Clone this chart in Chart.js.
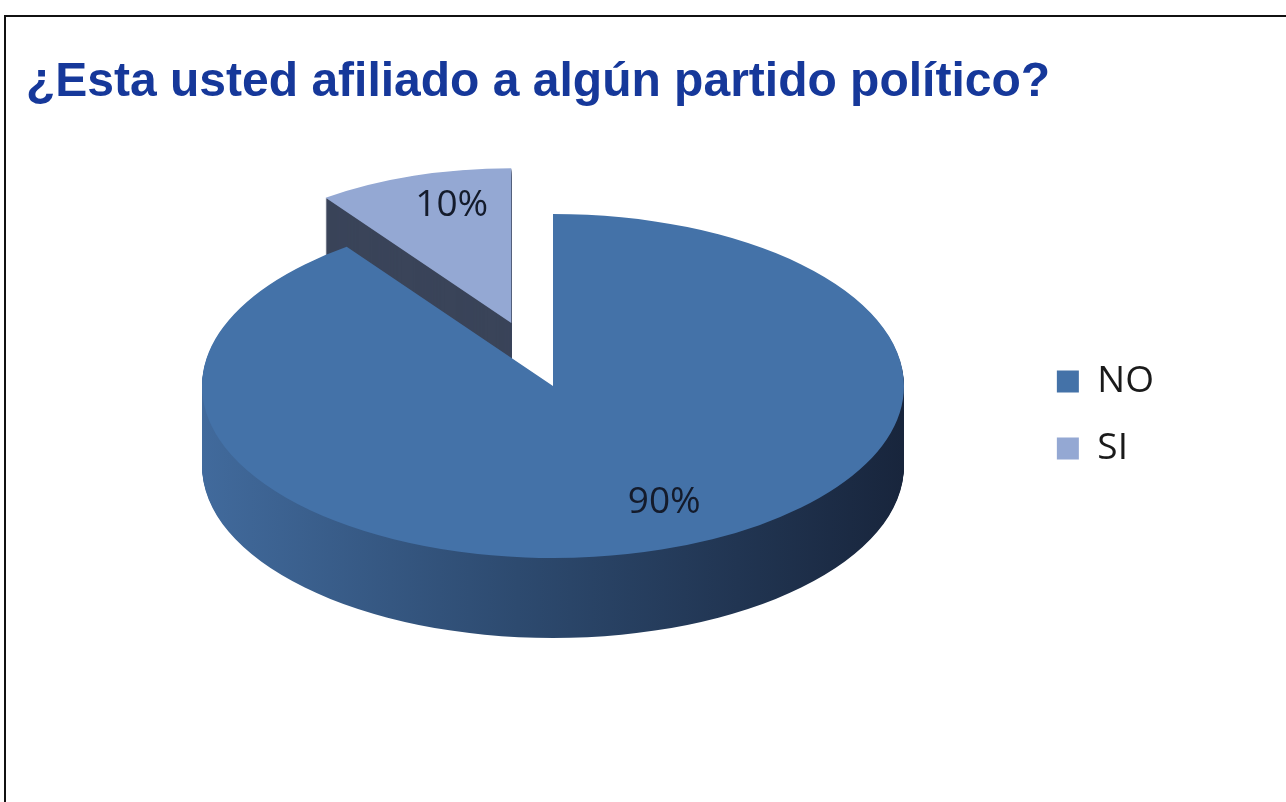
<!DOCTYPE html>
<html lang="es">
<head>
<meta charset="utf-8">
<title>¿Esta usted afiliado a algún partido político?</title>
<script src="https://cdn.jsdelivr.net/npm/chart.js@4.4.1/dist/chart.umd.min.js"></script>
<style>
  html, body { margin: 0; padding: 0; background: #fff; overflow: hidden; }
  #frame {
    position: absolute; left: 4px; top: 15px; width: 1400px; height: 900px;
    border-top: 2px solid #111; border-left: 2px solid #111;
  }
  #chart { position: absolute; left: 0; top: 0; }
</style>
</head>
<body>
<div id="frame"></div>
<canvas id="chart" width="1286" height="802"></canvas>
<script>
// ===== data =====
const TITLE = "¿Esta usted afiliado a algún partido político?";
const CATEGORIES = ["NO", "SI"];
const PERCENTS = [90, 10];
const COLORS = ["#4472a8", "#94a8d3"];

// ===== 3D look (projection of the flat pie) =====
const CENTER_X = 553;      // where the pie centre lands on the page
const CENTER_Y = 386;
const RADIUS = 351;
const TILT = 0.49;         // vertical squash of the top face
const DEPTH = 80;          // thickness of the disc
const EXPLODE = [0, 135];  // pull-out of each slice along its mid angle
const SHRINK = [1, 0.9];   // back slice looks smaller (fake perspective)
const LABEL_POS = [0.75, 0.78];  // label distance, fraction of radius
const LABEL_TURN = [-7, 4];      // small angle nudge of the labels, degrees

function sliceTransform(ctx, arc, i) {
  const mid = (arc.startAngle + arc.endAngle) / 2;
  ctx.translate(arc.x + Math.cos(mid) * EXPLODE[i], arc.y + Math.sin(mid) * EXPLODE[i]);
  ctx.scale(SHRINK[i], SHRINK[i]);
  ctx.translate(-arc.x, -arc.y);
}

const pie3d = {
  id: "pie3d",
  beforeDatasetsDraw(chart) {
    const ctx = chart.ctx;
    const arcs = chart.getDatasetMeta(0).data;
    const cx = arcs[0].x, cy = arcs[0].y;

    // each arc keeps its own draw, only moved / scaled
    arcs.forEach((arc, i) => {
      if (arc._pie3d) return;
      const own = arc.draw;
      arc.draw = function (c, area) {
        c.save();
        sliceTransform(c, this, i);
        own.call(this, c, area);
        c.restore();
      };
      arc._pie3d = true;
    });

    ctx.save();
    ctx.translate(CENTER_X, CENTER_Y);
    ctx.scale(1, TILT);
    ctx.translate(-cx, -cy);

    // side walls: stack the slice shape downwards, tops are drawn over it
    const grad = ctx.createLinearGradient(cx - RADIUS, 0, cx + RADIUS, 0);
    grad.addColorStop(0, "#416a9c");
    grad.addColorStop(0.45, "#2d4a6f");
    grad.addColorStop(1, "#18253c");
    const sides = [grad, "#3a4459"];
    arcs.forEach((arc, i) => {
      ctx.fillStyle = sides[i];
      for (let d = DEPTH; d > 0; d--) {
        ctx.save();
        ctx.translate(0, d / TILT);
        sliceTransform(ctx, arc, i);
        ctx.beginPath();
        ctx.moveTo(arc.x, arc.y);
        ctx.arc(arc.x, arc.y, arc.outerRadius, arc.startAngle, arc.endAngle);
        ctx.closePath();
        ctx.fill();
        ctx.restore();
      }
    });
  },
  afterDatasetsDraw(chart) {
    const ctx = chart.ctx;
    ctx.restore();
    const arcs = chart.getDatasetMeta(0).data;
    ctx.save();
    ctx.font = "37px 'Open Sans'";
    ctx.fillStyle = "#141b2b";
    ctx.textAlign = "center";
    ctx.textBaseline = "middle";
    arcs.forEach((arc, i) => {
      const mid = (arc.startAngle + arc.endAngle) / 2;
      const turn = mid + LABEL_TURN[i] * Math.PI / 180;
      const r = arc.outerRadius * SHRINK[i] * LABEL_POS[i];
      const px = Math.cos(mid) * EXPLODE[i] + Math.cos(turn) * r;
      const py = Math.sin(mid) * EXPLODE[i] + Math.sin(turn) * r;
      ctx.fillText(PERCENTS[i] + "%", CENTER_X + px, CENTER_Y + py * TILT);
    });
    ctx.restore();
  }
};

new Chart(document.getElementById("chart"), {
  type: "pie",
  data: {
    labels: CATEGORIES,
    datasets: [{
      data: PERCENTS,
      backgroundColor: COLORS,
      borderWidth: 0,
      radius: RADIUS,
      clip: false
    }]
  },
  options: {
    responsive: false,
    animation: false,
    devicePixelRatio: 1,
    events: [],
    layout: { padding: { left: 26, right: 122, top: 28, bottom: 0 } },
    plugins: {
      title: {
        display: true,
        text: TITLE,
        align: "start",
        color: "#16389a",
        font: { family: "'Liberation Sans', Arial, sans-serif", size: 48, weight: "bold" },
        padding: { top: 26, bottom: 35 }
      },
      legend: {
        position: "right",
        labels: {
          boxWidth: 22,
          boxHeight: 22,
          padding: 30,
          color: "#1a1a1a",
          font: { family: "'Open Sans'", size: 37 }
        }
      },
      tooltip: { enabled: false }
    }
  },
  plugins: [pie3d]
});
</script>
</body>
</html>
